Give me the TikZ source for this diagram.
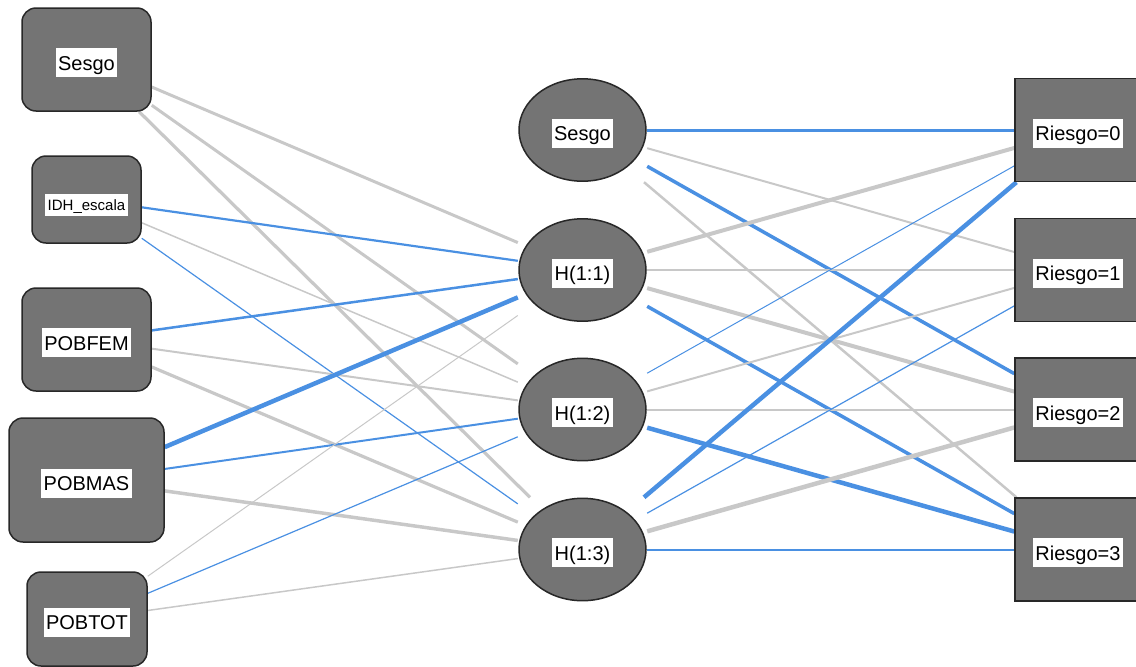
\documentclass[tikz,border=0pt]{standalone}
\usepackage{fontspec}
\setmainfont{Liberation Sans}
\usepackage{tikz}
\usetikzlibrary{backgrounds}
\definecolor{boxgrey}{RGB}{116,116,116}
\definecolor{linedark}{RGB}{40,40,40}
\definecolor{wgrey}{RGB}{200,200,200}
\definecolor{wblue}{RGB}{74,144,226}

\begin{document}
\begin{tikzpicture}[x=1pt, y=-1pt,
    inbox/.style={draw=linedark, line width=1.5pt, fill=boxgrey, rounded corners=14pt, inner sep=0pt},
    hidbox/.style={inner sep=0pt, minimum width=129pt, minimum height=104pt,
        path picture={\draw[linedark, fill=boxgrey, line width=1.5pt] (path picture bounding box.center) ellipse [x radius=63.5pt, y radius=51.2pt];}},
    outbox/.style={draw=linedark, line width=1.5pt, fill=boxgrey, inner sep=0pt, minimum width=126pt, minimum height=103pt},
    lbl/.style={draw=none, sharp corners, fill=white, text=black, inner xsep=2.5pt, inner ysep=4.5pt,
        text height=17.5pt, text depth=2.5pt, yshift=-3pt, font=\fontsize{20}{24}\selectfont},
    lblsmall/.style={lbl, inner ysep=3.5pt, text height=13pt, text depth=2pt, yshift=-2.5pt, font=\fontsize{15}{18}\selectfont},
    gw/.style={draw=wgrey, line width=#1pt},
    bw/.style={draw=wblue, line width=#1pt}]
    \useasboundingbox (0,0) rectangle (1136,667);

    \node[inbox, minimum width=129pt, minimum height=103pt, label={[lbl]center:Sesgo}] (in0) at (86.5,59.5) {};
    \node[inbox, minimum width=109pt, minimum height=87pt, label={[lblsmall]center:IDH\_escala}] (in1) at (86.5,199.5) {};
    \node[inbox, minimum width=129pt, minimum height=103pt, label={[lbl]center:POBFEM}] (in2) at (86.5,339.5) {};
    \node[inbox, minimum width=155pt, minimum height=124pt, label={[lbl]center:POBMAS}] (in3) at (86.5,480) {};
    \node[inbox, minimum width=120pt, minimum height=94pt, label={[lbl]center:POBTOT}] (in4) at (87,619) {};

    \node[hidbox, label={[lbl]center:Sesgo}] (hb) at (582.5,130) {};
    \node[hidbox, label={[lbl]center:H(1:1)}] (h1) at (582.5,270) {};
    \node[hidbox, label={[lbl]center:H(1:2)}] (h2) at (582.5,409.5) {};
    \node[hidbox, label={[lbl]center:H(1:3)}] (h3) at (582.5,549.5) {};

    \node[outbox, label={[lbl]center:Riesgo=0}] (r0) at (1078,130) {};
    \node[outbox, label={[lbl]center:Riesgo=1}] (r1) at (1078,270) {};
    \node[outbox, label={[lbl]center:Riesgo=2}] (r2) at (1078,409.5) {};
    \node[outbox, label={[lbl]center:Riesgo=3}] (r3) at (1078,549.5) {};

    \begin{scope}[on background layer]
    \path
    (h3) edge[bw=2] (r3)
    (in0) edge[gw=3] (h1)
    (in0) edge[gw=3] (h2)
    (in0) edge[gw=3.2] (h3)
    (in1) edge[bw=2.2] (h1)
    (in1) edge[gw=1.5] (h2)
    (in1) edge[bw=1.2] (h3)
    (in2) edge[bw=2.5] (h1)
    (in2) edge[gw=2] (h2)
    (in2) edge[gw=3.2] (h3)
    (in3) edge[bw=4.5] (h1)
    (in3) edge[bw=2] (h2)
    (in3) edge[gw=3.5] (h3)
    (in4) edge[gw=1] (h1)
    (in4) edge[bw=1.2] (h2)
    (in4) edge[gw=1.5] (h3)
    (hb) edge[bw=3] (r0)
    (hb) edge[gw=2] (r1)
    (hb) edge[bw=3.5] (r2)
    (hb) edge[gw=2.5] (r3)
    (h1) edge[gw=4] (r0)
    (h1) edge[gw=2.5] (r1)
    (h1) edge[gw=4] (r2)
    (h1) edge[bw=3.5] (r3)
    (h2) edge[bw=1] (r0)
    (h2) edge[gw=2] (r1)
    (h2) edge[gw=2] (r2)
    (h2) edge[bw=4.5] (r3)
    (h3) edge[bw=4.5] (r0)
    (h3) edge[bw=1.2] (r1)
    (h3) edge[gw=4.5] (r2);
    \end{scope}
\end{tikzpicture}
\end{document}
